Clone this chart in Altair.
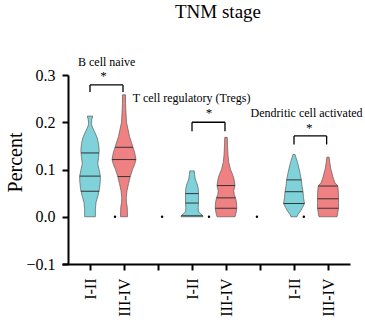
import altair as alt
import pandas as pd

# ---------------- data ----------------
TEAL = "#7fd2d9"
SALMON = "#f08182"

x_tick_values = [1, 2, 3, 4, 5, 6, 7, 8]
x_tick_labels = ["I-II", "III-IV", "", "I-II", "III-IV", "", "I-II", "III-IV"]

violin_pos = [1, 2, 4, 5, 7, 8]
violin_group = ["I-II", "III-IV", "I-II", "III-IV", "I-II", "III-IV"]

# violin outlines: value levels and full widths (density, in pixel-like units)
v1_y = [0.0, 0.015, 0.03, 0.045, 0.06, 0.075, 0.086, 0.10, 0.112, 0.125, 0.14, 0.155, 0.168, 0.18, 0.19, 0.197, 0.205, 0.213]
v1_w = [10.7, 10.7, 12, 16, 19, 20.5, 20.7, 18, 15.5, 17, 18.3, 17, 14, 9, 4.5, 2.8, 3.5, 5.3]
v2_y = [0.0, 0.02, 0.03, 0.04, 0.055, 0.07, 0.085, 0.10, 0.11, 0.121, 0.135, 0.147, 0.16, 0.17, 0.185, 0.20, 0.22, 0.24, 0.258]
v2_w = [7, 6.5, 5, 4.5, 6, 9, 12.5, 17, 21, 24, 21.5, 18, 14, 11, 8, 5, 4, 3, 3]
v3_y = [0.0, 0.003, 0.007, 0.012, 0.02, 0.03, 0.04, 0.05, 0.06, 0.07, 0.08, 0.09, 0.097]
v3_w = [22, 21, 16, 12.5, 12.5, 13, 13, 13, 12.5, 10, 6.5, 5, 4.5]
v4_y = [0.0, 0.008, 0.018, 0.03, 0.04, 0.047, 0.055, 0.066, 0.08, 0.09, 0.10, 0.115, 0.13, 0.15, 0.168]
v4_w = [18, 20, 21.5, 21, 19, 16.5, 15.5, 18, 16, 13, 9, 5.5, 4, 3, 2.5]
v5_y = [0.0, 0.005, 0.012, 0.02, 0.028, 0.04, 0.053, 0.065, 0.078, 0.09, 0.10, 0.115, 0.125, 0.132]
v5_w = [6, 8, 13, 17, 21, 19, 18, 16, 14.7, 12.5, 10.5, 7, 4, 2]
v6_y = [0.0, 0.008, 0.018, 0.03, 0.04, 0.055, 0.065, 0.072, 0.08, 0.09, 0.10, 0.115, 0.126]
v6_w = [18, 19.5, 21, 21, 21, 20.5, 19.5, 14, 11, 8.5, 6, 3.5, 2.3]
violin_y = [v1_y, v2_y, v3_y, v4_y, v5_y, v6_y]
violin_w = [v1_w, v2_w, v3_w, v4_w, v5_w, v6_w]

# quartile lines (value, width at that value)
quart_y = [[0.054, 0.086, 0.135], [0.085, 0.121, 0.147], [0.002, 0.029, 0.049],
           [0.018, 0.040, 0.066], [0.028, 0.053, 0.078], [0.018, 0.038, 0.065]]
quart_w = [[18.5, 20.7, 18], [12.5, 24, 18], [21.5, 13, 13],
           [21.5, 19, 18], [21, 18, 14.7], [21, 21, 19.5]]

# stray dots at zero
dot_x = [1.735, 3.12, 4.5, 5.91, 7.29]
dot_y = [0, 0, 0, 0, 0]

# significance brackets and labels
brk_x1 = [1.0, 4.0, 7.0]
brk_x2 = [1.97, 4.97, 7.96]
brk_top = [0.279, 0.200, 0.171]
brk_bot = [0.264, 0.181, 0.153]
label_text = ["B cell naive", "T cell regulatory (Tregs)", "Dendritic cell activated"]
label_x = [1.49, 3.99, 7.37]
label_y = [0.328, 0.251, 0.219]
star_x = [1.40, 4.50, 7.45]
star_y = [0.298, 0.219, 0.187]

# ---------------- build tables ----------------
HALF = 1 / 68.0  # width unit -> half width in x units
vrows = []
for i in range(len(violin_pos)):
    for y, w in zip(violin_y[i], violin_w[i]):
        vrows.append({"vid": i, "pos": violin_pos[i], "group": violin_group[i], "y": y, "w": w})
vdf = pd.DataFrame(vrows)

qrows = []
for i in range(len(violin_pos)):
    for y, w in zip(quart_y[i], quart_w[i]):
        qrows.append({"pos": violin_pos[i], "y": y, "w": w})
qdf = pd.DataFrame(qrows)

dots = pd.DataFrame({"x": dot_x, "y": dot_y})
brk = pd.DataFrame({"x1": brk_x1, "x2": brk_x2, "top": brk_top, "bot": brk_bot})
legs = pd.DataFrame({"x": brk_x1 + brk_x2, "top": brk_top + brk_top, "bot": brk_bot + brk_bot})
labels = pd.DataFrame({"x": label_x, "y": label_y, "t": label_text})
stars = pd.DataFrame({"x": star_x, "y": star_y, "t": ["*"] * 3})

FONT = "Liberation Serif, DejaVu Serif, Times New Roman, serif"
xscale = alt.Scale(domain=[0.176, 8.647], nice=False, zero=False)
yscale = alt.Scale(domain=[-0.1, 0.3], nice=False, zero=False)

label_expr = "[" + ",".join("'" + s + "'" for s in x_tick_labels) + "][datum.value - 1]"

xaxis = alt.Axis(values=x_tick_values, labelExpr=label_expr, labelAngle=270, title=None,
                 grid=False, domainColor="black", domainWidth=2, tickColor="black",
                 tickWidth=2, tickSize=6, labelFont=FONT, labelFontSize=16,
                 labelColor="black", labelPadding=8)
yaxis = alt.Axis(values=[-0.1, 0.0, 0.1, 0.2, 0.3], format=".1f", title="Percent",
                 grid=False, domainColor="black", domainWidth=2, tickColor="black",
                 tickWidth=2, tickSize=6, labelFont=FONT, labelFontSize=16,
                 labelColor="black", labelPadding=7, offset=-6,
                 titleFont=FONT, titleFontSize=20, titleFontWeight="normal",
                 titleColor="black", titlePadding=0, titleY=87)

violins = alt.Chart(vdf).transform_calculate(
    xl=f"datum.pos - datum.w * {HALF}", xr=f"datum.pos + datum.w * {HALF}"
).mark_area(orient="horizontal", stroke="#5a5a5a", strokeWidth=0.7, opacity=1).encode(
    y=alt.Y("y:Q", scale=yscale, axis=yaxis),
    x=alt.X("xl:Q", scale=xscale, axis=xaxis, stack=None),
    x2="xr:Q",
    fill=alt.Fill("group:N", scale=alt.Scale(domain=["I-II", "III-IV"], range=[TEAL, SALMON]), legend=None),
    detail="vid:N",
)

quarts = alt.Chart(qdf).transform_calculate(
    xl=f"datum.pos - datum.w * {HALF}", xr=f"datum.pos + datum.w * {HALF}"
).mark_rule(color="#333333", strokeWidth=1).encode(
    x="xl:Q", x2="xr:Q", y="y:Q"
)

dot_layer = alt.Chart(dots).mark_point(filled=True, color="black", size=6, opacity=1).encode(
    x="x:Q", y="y:Q"
)

brk_h = alt.Chart(brk).mark_rule(color="black", strokeWidth=1.3).encode(
    x="x1:Q", x2="x2:Q", y="top:Q"
)
brk_v = alt.Chart(legs).mark_rule(color="black", strokeWidth=1.3).encode(
    x="x:Q", y="top:Q", y2="bot:Q"
)

label_layer = alt.Chart(labels).mark_text(font=FONT, fontSize=12, color="black", baseline="middle").encode(
    x="x:Q", y="y:Q", text="t:N"
)
star_layer = alt.Chart(stars).mark_text(font=FONT, fontSize=13, color="black", baseline="middle").encode(
    x="x:Q", y="y:Q", text="t:N"
)

title_layer = alt.Chart(pd.DataFrame({"t": ["TNM stage"]})).mark_text(
    font=FONT, fontSize=19, color="black", baseline="middle", align="center"
).encode(x=alt.value(156), y=alt.value(-63), text="t:N")

chart = alt.layer(
    violins, quarts, dot_layer, brk_h, brk_v, label_layer, star_layer, title_layer
).properties(
    width=288, height=189,
    autosize=alt.AutoSizeParams(type="none"),
    padding={"left": 62, "top": 75, "right": 15, "bottom": 63},
    background="white",
).configure_view(stroke=None)

chart.save("out.html", embed_options={"renderer": "svg", "actions": False})
